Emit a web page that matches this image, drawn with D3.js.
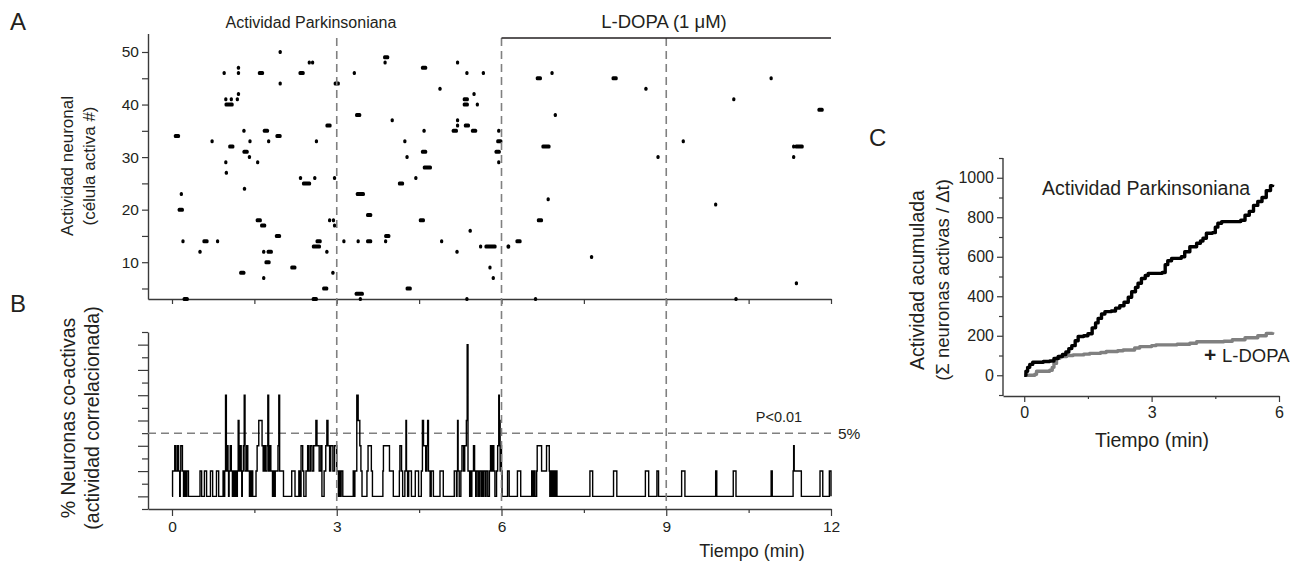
<!DOCTYPE html>
<html>
<head>
<meta charset="utf-8">
<script src="https://cdn.jsdelivr.net/npm/d3@7"></script>
<style>
  body { margin: 0; background: #fff; }
  svg { display: block; }
  text { font-family: "Liberation Sans", Arial, sans-serif; fill: #231f20; }
</style>
</head>
<body>
<svg id="chart" width="1308" height="563"></svg>
<script>
// raster: [time (min), cell #, frames]
const spikes = [
  [1.97,50,1],[2.50,48,1],[2.56,48,1],[0.95,46,1],[1.21,47,1],[1.21,46,1],[1.62,46,2],[2.36,46,2],
  [1.97,44,1],[3.00,44,2],[1.21,42,1],[0.98,41,1],[1.08,41,1],[1.19,41,1],[1.04,40,3],[2.85,36,2],
  [0.09,34,2],[1.31,35,1],[1.71,35,2],[0.73,33,1],[1.42,33,1],[1.76,33,1],[1.94,34,2],[2.63,33,1],
  [1.08,32,2],[1.34,31,2],[1.41,30,1],[0.98,29,1],[1.56,29,1],[0.99,27,1],[2.34,26,1],[2.60,26,1],
  [2.45,25,3],[2.96,26,1],[1.32,24,1],[0.17,23,1],[0.16,20,2],[1.58,18,2],[1.66,17,2],[2.87,18,1],
  [2.94,18,1],[2.96,17,1],[1.93,15,2],[0.20,14,1],[0.61,14,2],[0.83,14,1],[2.67,14,2],[0.51,12,1],
  [1.67,12,1],[1.78,12,2],[2.63,13,3],[2.82,12,1],[1.74,10,2],[2.21,9,2],[1.28,8,2],[1.67,7,1],
  [2.93,8,1],[2.79,5,2],[0.25,3,2],[2.60,3,2],
  [3.90,49,2],[3.88,48,1],[4.59,47,2],[3.32,46,1],[5.20,48,1],[5.37,46,1],[5.67,46,1],[4.88,43,1],
  [5.50,42,1],[5.35,41,2],[5.35,40,2],[5.56,40,1],[3.39,38,2],[4.01,37,1],[5.20,37,1],[5.20,36,1],
  [5.37,36,2],[5.15,35,2],[4.59,35,1],[5.50,35,2],[5.95,35,1],[4.24,33,1],[5.96,33,2],[4.59,31,2],
  [5.93,31,2],[4.28,30,1],[5.95,29,1],[4.65,28,3],[4.44,26,1],[4.17,25,2],[3.43,23,3],[3.59,19,2],
  [4.55,18,2],[5.43,16,1],[3.92,15,2],[3.13,14,1],[3.39,14,1],[3.59,14,2],[3.89,14,1],[4.91,14,1],
  [5.19,12,1],[5.62,13,1],[5.80,13,4],[6.13,13,1],[5.79,9,1],[5.85,7,1],[4.31,5,2],[3.41,4,3],
  [3.43,3,1],[5.37,3,1],
  [6.68,45,2],[6.92,46,1],[8.06,45,2],[8.63,43,1],[6.98,38,1],[6.81,32,3],[8.85,30,1],[6.85,22,1],
  [6.70,18,2],[6.31,14,2],[6.12,13,1],[7.64,11,1],[6.62,3,1],[9.31,33,1],[10.23,41,1],[10.91,45,1],
  [11.81,39,2],[11.32,32,1],[11.42,32,3],[11.32,30,1],[9.90,21,1],[11.37,6,1],[10.27,3,1]
];

// co-active neurons (%), change points [time, value]
const coactivity = [
  [0,0],[0.01,2],[0.05,4],[0.07,2],[0.10,4],[0.12,2],[0.14,0],[0.15,2],[0.16,4],[0.19,2],[0.21,0],
  [0.215,2],[0.23,0],[0.24,2],[0.26,0],[0.27,2],[0.30,0],
  [0.51,2],[0.54,0],[0.59,2],[0.63,0],[0.70,2],[0.74,0],[0.81,2],[0.85,0],
  [0.93,2],[0.95,0],[0.96,2],[0.975,8],[0.99,2],[1.00,4],[1.02,2],[1.03,0],[1.04,2],[1.06,4],[1.08,2],
  [1.10,0],[1.11,2],[1.13,0],[1.15,2],[1.17,0],
  [1.19,2],[1.205,6],[1.22,2],[1.24,4],[1.26,2],[1.27,0],[1.28,2],[1.30,4],[1.315,8],[1.33,2],[1.36,4],
  [1.38,2],[1.41,0],[1.42,2],[1.44,0],[1.45,2],[1.47,0],
  [1.53,2],[1.55,4],[1.58,6],[1.64,4],[1.66,2],[1.68,4],[1.70,2],[1.73,4],[1.745,8],[1.76,2],[1.78,4],
  [1.80,2],[1.83,0],[1.84,2],[1.86,0],[1.88,2],[1.93,4],[1.945,8],[1.96,2],[2.03,0],
  [2.18,2],[2.24,0],[2.31,2],[2.33,0],[2.35,4],[2.38,2],[2.40,0],
  [2.44,2],[2.47,4],[2.49,2],[2.52,4],[2.55,2],[2.58,4],[2.62,6],[2.64,4],[2.68,2],[2.71,4],[2.73,0],
  [2.77,2],[2.80,4],[2.82,6],[2.84,4],[2.87,2],[2.89,4],[2.93,2],[2.96,4],[3.00,2],[3.03,0],[3.04,2],
  [3.06,0],[3.08,2],[3.11,0],
  [3.30,2],[3.32,0],[3.33,2],[3.365,8],[3.39,6],[3.42,4],[3.44,2],[3.46,0],
  [3.55,2],[3.57,4],[3.63,2],[3.65,0],
  [3.84,2],[3.85,4],[3.96,2],[4.03,0],
  [4.14,2],[4.15,4],[4.18,2],[4.20,0],[4.24,2],[4.26,6],[4.27,2],[4.29,0],[4.31,2],[4.36,0],
  [4.43,2],[4.49,0],[4.54,2],[4.56,6],[4.58,4],[4.62,2],[4.64,4],[4.655,6],[4.67,2],[4.70,0],
  [4.72,2],[4.76,0],[4.88,2],[4.94,0],[5.14,2],[5.18,0],[5.19,2],[5.20,6],[5.21,2],[5.23,0],
  [5.26,2],[5.28,4],[5.31,2],[5.33,4],[5.36,6],[5.375,12],[5.39,2],
  [5.42,0],[5.43,2],[5.45,0],[5.46,2],[5.49,4],[5.51,2],[5.53,0],[5.54,2],
  [5.57,0],[5.58,2],[5.60,0],[5.61,2],[5.64,0],[5.65,2],[5.67,0],[5.68,2],[5.71,0],[5.72,2],[5.75,0],
  [5.78,2],[5.80,4],[5.82,2],[5.84,4],[5.86,2],[5.88,0],
  [5.91,2],[5.93,4],[5.95,8],[5.96,6],[5.975,2],[5.99,4],[6.00,2],[6.01,0],
  [6.11,2],[6.14,0],[6.29,2],[6.35,0],
  [6.55,2],[6.57,0],[6.59,2],[6.61,0],[6.64,2],[6.65,4],[6.73,2],[6.82,4],[6.87,2],[6.88,0],
  [6.90,2],[6.91,0],[6.93,2],[6.94,0],[6.96,2],[6.97,0],[6.99,2],[7.01,0],
  [7.61,2],[7.66,0],[8.04,2],[8.10,0],[8.62,2],[8.68,0],[8.83,2],[8.86,0],
  [9.28,2],[9.34,0],[9.90,2],[9.92,0],[10.22,2],[10.27,0],[10.91,2],[10.93,0],
  [11.31,2],[11.32,4],[11.33,2],[11.46,0],[11.80,2],[11.85,0],[11.97,2],[12.0,0]
];

// cumulative activity, change points [time, value]
const parkinsonCum = [
  [0,0],[0.04,20],[0.08,40],[0.13,55],[0.20,66],[0.45,70],[0.60,72],[0.70,85],[0.80,95],[0.90,105],
  [0.98,118],[1.05,135],[1.12,150],[1.20,175],[1.27,196],[1.40,200],[1.50,210],[1.60,240],[1.68,265],
  [1.74,288],[1.82,310],[1.90,322],[2.05,325],[2.15,340],[2.25,352],[2.35,370],[2.45,395],[2.53,423],
  [2.62,445],[2.68,466],[2.76,490],[2.85,505],[2.92,516],[3.25,520],[3.32,560],[3.38,580],[3.47,592],
  [3.70,600],[3.78,625],[3.90,651],[4.06,668],[4.15,680],[4.21,694],[4.29,719],[4.43,722],[4.50,750],
  [4.56,770],[4.65,778],[5.10,785],[5.20,810],[5.30,830],[5.40,860],[5.50,880],[5.60,900],[5.70,935],
  [5.80,960],[5.85,965]
];
const ldopaCum = [
  [0,0],[0.25,5],[0.29,20],[0.60,25],[0.66,40],[0.70,60],[0.76,86],[0.84,95],[1.00,100],[1.15,103],
  [1.40,107],[1.54,111],[1.80,115],[1.93,120],[2.20,124],[2.33,128],[2.60,138],[2.72,145],[3.00,150],
  [3.10,154],[3.60,157],[3.90,162],[4.06,170],[4.70,172],[4.90,180],[5.20,190],[5.50,200],[5.70,212],
  [5.85,218]
];

const timeTicks = [0, 1.5, 3, 4.5, 6, 7.5, 9, 10.5, 12];
const cellTicks = [5, 10, 15, 20, 25, 30, 35, 40, 45, 50];
const coTicks = d3.range(-1, 14);
const markerTimes = [3, 6, 9];
const thresholdPct = 5;
const cumTicksY = [-100, 0, 100, 200, 300, 400, 500, 600, 700, 800, 900, 1000, 1100];
const cumTicksX = [0, 1.5, 3, 4.5, 6];

const svg = d3.select("#chart");
svg.append("rect").attr("width", 1308).attr("height", 563).attr("fill", "#fff");

const axisColor = "#3a3a3a";

const xA = d3.scaleLinear().domain([-0.437, 12]).range([148, 831]);
const yA = d3.scaleLinear().domain([3, 53.5]).range([299, 33.6]);
const yB = d3.scaleLinear().domain([-1, 13]).range([509, 332]);
const xC = d3.scaleLinear().domain([-0.5, 6]).range([1003, 1279]);
const yC = d3.scaleLinear().domain([-105, 1100]).range([396, 158]);

function styleAxis(g, size) {
  g.select(".domain").attr("stroke", axisColor).attr("stroke-width", 1.4);
  g.selectAll(".tick line").attr("stroke", axisColor).attr("stroke-width", 1.2);
  g.selectAll(".tick text")
    .style("font-family", "'Liberation Sans', Arial, sans-serif")
    .style("font-size", size + "px")
    .attr("fill", "#231f20");
}

// ---- panel A ----
svg.append("g")
  .attr("transform", "translate(0,299)")
  .call(d3.axisBottom(xA).tickValues(timeTicks).tickSize(5).tickSizeOuter(0).tickFormat(""))
  .call(g => styleAxis(g, 15));

svg.append("g")
  .attr("transform", "translate(148,0)")
  .call(d3.axisLeft(yA).tickValues(cellTicks).tickSize(6).tickSizeOuter(0)
    .tickFormat(d => d % 10 === 0 ? d : ""))
  .call(g => styleAxis(g, 15.5))
  .call(g => g.selectAll(".tick text").attr("x", -9));

svg.append("g").selectAll("rect")
  .data(spikes)
  .enter()
  .append("rect")
  .attr("x", d => xA(d[0]) - (3.2 + (d[2] - 1) * 3) / 2)
  .attr("y", d => yA(d[1]) - 2)
  .attr("width", d => 3.2 + (d[2] - 1) * 3)
  .attr("height", 4)
  .attr("rx", 1.5)
  .attr("fill", "#000");

// ---- panel B ----
svg.append("g")
  .attr("transform", "translate(148,0)")
  .call(d3.axisLeft(yB).tickValues(coTicks).tickSize(6).tickSizeOuter(0).tickFormat(""))
  .call(g => styleAxis(g, 15))
  .call(g => g.selectAll(".tick line").attr("x2", d => d % 2 === 0 ? -10 : -6));

svg.append("g")
  .attr("transform", "translate(0,509)")
  .call(d3.axisBottom(xA).tickValues(timeTicks).tickSize(7).tickSizeOuter(0)
    .tickFormat(d => d % 3 === 0 ? d : ""))
  .call(g => styleAxis(g, 15.5))
  .call(g => g.selectAll(".tick line").attr("y2", d => d % 3 === 0 ? 7 : 4))
  .call(g => g.selectAll(".tick text").attr("y", 12));

// threshold
svg.append("line")
  .attr("x1", xA.range()[0]).attr("x2", xA(12))
  .attr("y1", yB(thresholdPct)).attr("y2", yB(thresholdPct))
  .attr("stroke", "#808080").attr("stroke-width", 1.5).attr("stroke-dasharray", "8,5");

const coLine = d3.line()
  .x(d => xA(d[0]))
  .y(d => yB(d[1]))
  .curve(d3.curveStepAfter);

svg.append("path")
  .datum(coactivity)
  .attr("d", coLine)
  .attr("fill", "none")
  .attr("stroke", "#000")
  .attr("stroke-width", 1.4);

// dashed time markers across A and B
svg.append("g").selectAll("line")
  .data(markerTimes)
  .enter()
  .append("line")
  .attr("x1", d => xA(d)).attr("x2", d => xA(d))
  .attr("y1", 38).attr("y2", 509)
  .attr("stroke", "#808080").attr("stroke-width", 1.6).attr("stroke-dasharray", "8,5");

// L-DOPA bar
svg.append("line")
  .attr("x1", xA(6)).attr("x2", xA(12))
  .attr("y1", 38).attr("y2", 38)
  .attr("stroke", "#231f20").attr("stroke-width", 1.5);

// texts A/B
svg.append("text").attr("x", 311).attr("y", 28).attr("text-anchor", "middle")
  .style("font-size", "16px").text("Actividad Parkinsoniana");
svg.append("text").attr("x", 664).attr("y", 28).attr("text-anchor", "middle")
  .style("font-size", "18.5px").text("L-DOPA (1 \u03BCM)");
svg.append("text").attr("x", 779).attr("y", 422).attr("text-anchor", "middle")
  .style("font-size", "14.5px").text("P<0.01");
svg.append("text").attr("x", 838).attr("y", 439)
  .style("font-size", "15.5px").text("5%");
svg.append("text").attr("x", 752).attr("y", 557).attr("text-anchor", "middle")
  .style("font-size", "18px").text("Tiempo (min)");

svg.append("text").attr("transform", "translate(73,166) rotate(-90)").attr("text-anchor", "middle")
  .style("font-size", "17px").text("Actividad neuronal");
svg.append("text").attr("transform", "translate(95,166) rotate(-90)").attr("text-anchor", "middle")
  .style("font-size", "17px").text("(célula activa #)");
svg.append("text").attr("transform", "translate(75,418) rotate(-90)").attr("text-anchor", "middle")
  .style("font-size", "19.5px").text("% Neuronas co-activas");
svg.append("text").attr("transform", "translate(99,418) rotate(-90)").attr("text-anchor", "middle")
  .style("font-size", "19.5px").text("(actividad correlacionada)");

svg.append("text").attr("x", 10).attr("y", 30).style("font-size", "24px").text("A");
svg.append("text").attr("x", 10).attr("y", 312).style("font-size", "24px").text("B");
svg.append("text").attr("x", 869).attr("y", 146).style("font-size", "24px").text("C");

// ---- panel C ----
svg.append("g")
  .attr("transform", "translate(1003,0)")
  .call(d3.axisLeft(yC).tickValues(cumTicksY).tickSize(6).tickSizeOuter(0)
    .tickFormat(d => d >= 0 && d % 200 === 0 ? d : ""))
  .call(g => styleAxis(g, 16))
  .call(g => g.selectAll(".tick line").attr("x2", d => d % 200 === 0 ? -6 : -4))
  .call(g => g.select(".domain").attr("d", `M0,${yC(1100)}V${yC(-105)}`));

svg.append("g")
  .attr("transform", "translate(0,396)")
  .call(d3.axisBottom(xC).tickValues(cumTicksX).tickSize(6).tickSizeOuter(0)
    .tickFormat(d => d % 3 === 0 ? d : ""))
  .call(g => styleAxis(g, 16))
  .call(g => g.selectAll(".tick line").attr("y2", d => d % 3 === 0 ? 6 : 3))
  .call(g => g.selectAll(".tick text").attr("y", 11));

const cumLine = d3.line()
  .x(d => xC(d[0]))
  .y(d => yC(d[1]))
  .curve(d3.curveStepAfter);

svg.append("path").datum(ldopaCum).attr("d", cumLine)
  .attr("fill", "none").attr("stroke", "#808080").attr("stroke-width", 3.4)
  .attr("stroke-linejoin", "round");
svg.append("path").datum(parkinsonCum).attr("d", cumLine)
  .attr("fill", "none").attr("stroke", "#000").attr("stroke-width", 3.4)
  .attr("stroke-linejoin", "round");

svg.append("text").attr("x", 1042).attr("y", 195).style("font-size", "19.5px").text("Actividad Parkinsoniana");
svg.append("text").attr("x", 1204).attr("y", 362).style("font-size", "21px").style("font-weight", "bold").text("+");
svg.append("text").attr("x", 1222).attr("y", 362).style("font-size", "18.5px").text("L-DOPA");
svg.append("text").attr("x", 1152).attr("y", 447).attr("text-anchor", "middle")
  .style("font-size", "19.5px").text("Tiempo (min)");

svg.append("text").attr("transform", "translate(924,280) rotate(-90)").attr("text-anchor", "middle")
  .style("font-size", "19.5px").text("Actividad acumulada");
svg.append("text").attr("transform", "translate(949,280) rotate(-90)").attr("text-anchor", "middle")
  .style("font-size", "18.5px").text("(\u03A3 neuronas activas / \u0394t)");
</script>
</body>
</html>
